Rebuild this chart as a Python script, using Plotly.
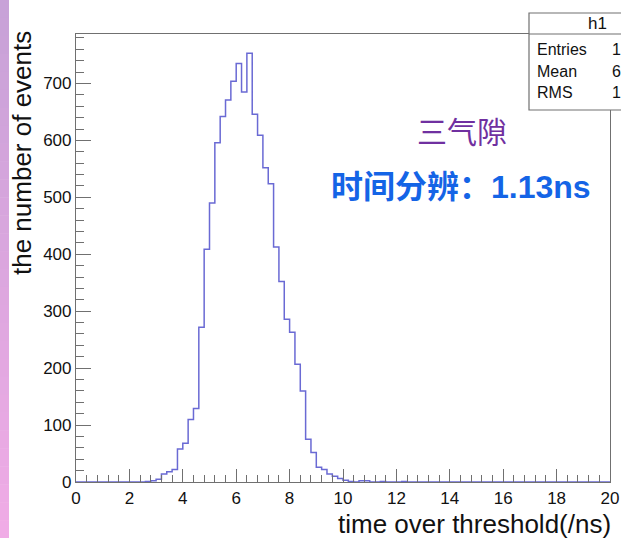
import numpy as np
import plotly.graph_objects as go

# ---------------- data ----------------
bin_width = 0.2
n_bins = 100
# counts per bin (bin k covers [0.2k, 0.2k+0.2))
first_bin = 13
counts_nonzero = [1, 2, 5, 14, 18, 22, 58, 68, 110, 129,
                  272, 409, 490, 596, 642, 671, 704, 735, 685, 753,
                  646, 609, 552, 524, 413, 352, 286, 263, 207, 160,
                  75, 52, 26, 22, 14, 10, 6, 3, 1, 0,
                  2, 2, 0, 0, 1, 0, 0, 0, 1]
counts = [0] * n_bins
for i, c in enumerate(counts_nonzero):
    counts[first_bin + i] = c
bin_low = [round(bin_width * k, 1) for k in range(n_bins)]

x_tick_vals = [0, 2, 4, 6, 8, 10, 12, 14, 16, 18, 20]
y_tick_vals = [0, 100, 200, 300, 400, 500, 600, 700]

label_tag = "三气隙"
label_res = "时间分辨：1.13ns"
x_title = "time over threshold(/ns)"
y_title = "the number of events"
hist_name = "h1"

# stats
centers = np.array(bin_low) + bin_width / 2
cnt = np.array(counts, dtype=float)
entries = int(cnt.sum())
mean = float((cnt * centers).sum() / cnt.sum())
rms = float(np.sqrt((cnt * (centers - mean) ** 2).sum() / cnt.sum()))

# ---------------- layout geometry (pixels) ----------------
W, H = 621, 538
L, R, T, B = 76, 11, 34, 56
pw, ph = W - L - R, H - T - B


def px(x):
    return (x - L) / pw


def py(y):
    return (H - B - y) / ph


FONT = "Liberation Sans, Arial, Helvetica, sans-serif"
CJK = "Noto Sans CJK SC, sans-serif"
LINE_C = "#6a6ad4"
FRAME_C = "#707070"

fig = go.Figure()
fig.add_trace(go.Scatter(
    x=bin_low + [20.0], y=counts + [counts[-1]],
    mode="lines", line=dict(shape="hv", color=LINE_C, width=1.5),
    hoverinfo="skip", showlegend=False, cliponaxis=True))

shapes = []
# left decorative gradient strip
n_strip = 30
c_top = np.array([0xc8, 0xa2, 0xd8])
c_bot = np.array([0xf0, 0xac, 0xe6])
for i in range(n_strip):
    f = i / (n_strip - 1)
    c = (c_top * (1 - f) + c_bot * f).astype(int)
    y0 = H * i / n_strip
    y1 = H * (i + 1) / n_strip + 0.5
    shapes.append(dict(type="rect", xref="paper", yref="paper",
                       x0=px(0), x1=px(9), y0=py(y1), y1=py(y0),
                       line=dict(width=0), fillcolor="rgb(%d,%d,%d)" % tuple(c),
                       layer="above"))
# stats box
shapes.append(dict(type="rect", xref="paper", yref="paper",
                   x0=px(529), x1=px(660), y0=py(110), y1=py(13),
                   line=dict(color=FRAME_C, width=1.2), fillcolor="white",
                   layer="above"))
shapes.append(dict(type="line", xref="paper", yref="paper",
                   x0=px(529), x1=px(660), y0=py(34), y1=py(34),
                   line=dict(color=FRAME_C, width=1.2), layer="above"))

ann = []
ann.append(dict(text=hist_name, x=px(597), y=py(24), xref="paper", yref="paper",
                showarrow=False, xanchor="center", yanchor="middle",
                font=dict(family=FONT, size=17, color="#111")))
for lbl, val, yy in [("Entries", "%d" % entries, 49),
                     ("Mean", "%.3f" % mean, 71),
                     ("RMS", "%.3f" % rms, 92)]:
    ann.append(dict(text=lbl, x=px(535), y=py(yy), xref="paper", yref="paper",
                    showarrow=False, xanchor="left", yanchor="middle",
                    font=dict(family=FONT, size=16, color="#111")))
    ann.append(dict(text=val, x=px(610), y=py(yy), xref="paper", yref="paper",
                    showarrow=False, xanchor="left", yanchor="middle",
                    font=dict(family=FONT, size=16, color="#111")))

ann.append(dict(text=label_tag, x=px(462), y=py(130), xref="paper", yref="paper",
                showarrow=False, xanchor="center", yanchor="middle",
                font=dict(family=CJK, size=30, color="#7030a0")))
ann.append(dict(text="<b>" + label_res + "</b>", x=px(461), y=py(187),
                xref="paper", yref="paper",
                showarrow=False, xanchor="center", yanchor="middle",
                font=dict(family="Liberation Sans, " + CJK, size=32, color="#1464e6")))
ann.append(dict(text=x_title, x=px(613), y=py(524), xref="paper", yref="paper",
                showarrow=False, xanchor="right", yanchor="middle",
                font=dict(family=FONT, size=26, color="#111")))
ann.append(dict(text=y_title, x=px(22), y=py(29), xref="paper", yref="paper",
                showarrow=False, xanchor="center", yanchor="top", textangle=-90,
                font=dict(family=FONT, size=26, color="#111")))

fig.update_layout(
    width=W, height=H,
    margin=dict(l=L, r=R, t=T, b=B, autoexpand=False),
    paper_bgcolor="white", plot_bgcolor="white",
    shapes=shapes, annotations=ann,
    xaxis=dict(range=[0, 20], tickvals=x_tick_vals, ticks="inside", ticklen=13,
               tickcolor=FRAME_C, tickwidth=1.2,
               minor=dict(dtick=0.4, ticks="inside", ticklen=7, tickcolor=FRAME_C, tickwidth=1.2),
               showgrid=False, zeroline=False, showline=True, linecolor=FRAME_C,
               linewidth=1.2, mirror=True,
               tickfont=dict(family=FONT, size=17, color="#111")),
    yaxis=dict(range=[0, 787], tickvals=y_tick_vals, ticks="inside", ticklen=15,
               tickcolor=FRAME_C, tickwidth=1.2,
               minor=dict(dtick=20, ticks="inside", ticklen=8, tickcolor=FRAME_C, tickwidth=1.2),
               showgrid=False, zeroline=False, showline=True, linecolor=FRAME_C,
               linewidth=1.2, mirror=True,
               tickfont=dict(family=FONT, size=17, color="#111")),
)

fig.write_html("out.html", config={"displayModeBar": False},
               post_script="document.body.style.margin='0px';document.body.style.padding='0px';")
